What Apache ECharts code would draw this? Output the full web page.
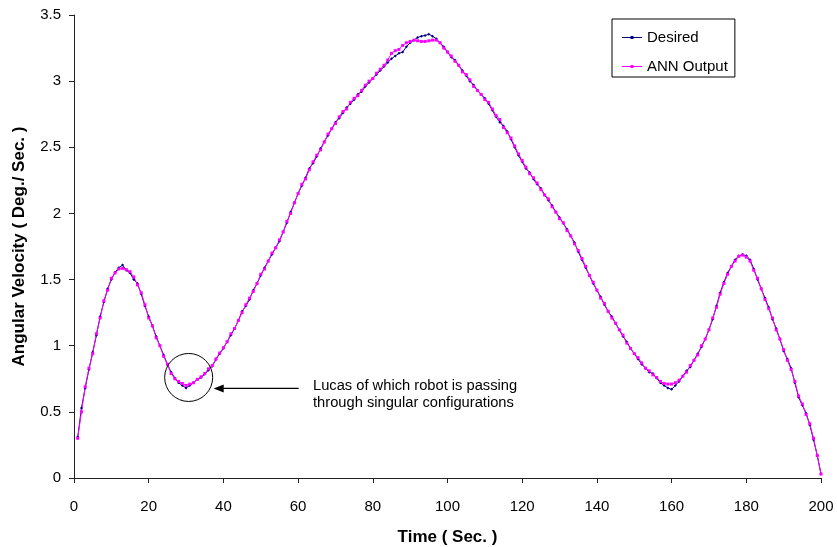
<!DOCTYPE html>
<html><head><meta charset="utf-8">
<script src="https://cdn.jsdelivr.net/npm/echarts@6/dist/echarts.min.js"></script>
<style>html,body{margin:0;padding:0;background:#fff}#c{width:837px;height:547px}</style>
</head><body><div id="c"></div>
<script>
const timeSec = Array.from({length:200},(_,i)=>i+1);
const desired = [
0.31,0.53,0.68,0.82,0.95,1.08,1.22,1.33,1.43,1.50,
1.555,1.59,1.61,1.57,1.55,1.50,1.47,1.39,1.30,1.22,
1.15,1.07,1.00,0.93,0.86,0.80,0.755,0.72,0.70,0.68,
0.70,0.72,0.745,0.76,0.785,0.815,0.845,0.895,0.94,0.98,
1.03,1.08,1.13,1.19,1.26,1.30,1.35,1.42,1.47,1.53,
1.59,1.64,1.69,1.74,1.79,1.86,1.93,2.01,2.08,2.15,
2.21,2.27,2.34,2.38,2.43,2.49,2.54,2.59,2.64,2.69,
2.72,2.76,2.80,2.83,2.86,2.90,2.92,2.96,2.99,3.02,
3.05,3.08,3.11,3.14,3.17,3.19,3.21,3.22,3.26,3.29,
3.31,3.33,3.34,3.345,3.355,3.34,3.32,3.29,3.26,3.22,
3.18,3.16,3.12,3.08,3.04,3.00,2.97,2.93,2.90,2.87,
2.83,2.78,2.73,2.69,2.66,2.62,2.56,2.50,2.44,2.39,
2.34,2.31,2.26,2.22,2.19,2.14,2.10,2.06,2.01,1.97,
1.925,1.88,1.83,1.78,1.71,1.65,1.59,1.53,1.47,1.42,
1.37,1.31,1.26,1.22,1.17,1.12,1.07,1.03,0.98,0.94,
0.90,0.86,0.83,0.80,0.79,0.755,0.72,0.70,0.68,0.67,
0.70,0.73,0.77,0.81,0.84,0.89,0.94,0.99,1.05,1.12,
1.20,1.30,1.40,1.48,1.55,1.60,1.65,1.68,1.69,1.68,
1.65,1.58,1.50,1.43,1.36,1.29,1.20,1.13,1.05,0.96,
0.90,0.83,0.72,0.61,0.55,0.49,0.40,0.29,0.17,0.03
];
const annOutput = [
0.30,0.50,0.69,0.83,0.94,1.09,1.21,1.34,1.42,1.51,
1.55,1.58,1.585,1.575,1.56,1.52,1.46,1.40,1.31,1.21,
1.15,1.06,1.00,0.92,0.86,0.79,0.75,0.73,0.715,0.70,
0.71,0.72,0.745,0.765,0.79,0.825,0.85,0.90,0.945,0.985,
1.03,1.09,1.13,1.19,1.25,1.31,1.36,1.41,1.47,1.54,
1.58,1.64,1.70,1.74,1.80,1.86,1.94,2.00,2.08,2.15,
2.22,2.26,2.33,2.39,2.44,2.48,2.54,2.60,2.64,2.68,
2.73,2.77,2.79,2.84,2.87,2.89,2.93,2.97,3.00,3.02,
3.06,3.09,3.12,3.16,3.21,3.23,3.24,3.27,3.29,3.30,
3.31,3.305,3.30,3.30,3.305,3.31,3.31,3.29,3.25,3.22,
3.19,3.15,3.12,3.07,3.05,3.01,2.96,2.93,2.90,2.86,
2.84,2.79,2.74,2.71,2.65,2.61,2.57,2.51,2.45,2.40,
2.35,2.30,2.27,2.23,2.18,2.14,2.11,2.05,2.01,1.96,
1.93,1.87,1.83,1.77,1.72,1.66,1.60,1.53,1.48,1.42,
1.36,1.32,1.26,1.21,1.17,1.12,1.08,1.02,0.98,0.94,
0.91,0.87,0.83,0.81,0.78,0.76,0.73,0.715,0.71,0.71,
0.72,0.74,0.77,0.80,0.85,0.89,0.93,1.00,1.05,1.12,
1.21,1.29,1.39,1.47,1.54,1.60,1.64,1.675,1.685,1.67,
1.64,1.57,1.51,1.43,1.35,1.28,1.21,1.12,1.05,0.97,
0.89,0.82,0.73,0.62,0.56,0.48,0.41,0.30,0.17,0.03
];
const xTicks = {min:0, max:200, interval:20};
const yTicks = {min:0, max:3.5, interval:0.5};
const annotationText = ['Lucas of which robot is passing','through singular configurations'];
const circleAt = [30.7, 0.76];

const FONT = '"Liberation Sans", Arial, sans-serif';
const chart = echarts.init(document.getElementById('c'), null, {renderer:'canvas'});
const pair = (a)=>timeSec.map((t,i)=>[t,a[i]]);
const legendIcon = 'path://M0,4.5H20V5.5H0Z M8.5,3.5H11.5V6.5H8.5Z';
chart.setOption({
  animation:false,
  backgroundColor:'#fff',
  textStyle:{fontFamily:FONT},
  grid:{left:74, right:16, top:15, bottom:69, containLabel:false, outerBoundsMode:'none'},
  xAxis:{type:'value', min:xTicks.min, max:xTicks.max, interval:xTicks.interval,
    name:'Time ( Sec. )', nameLocation:'middle', nameGap:51,
    nameTextStyle:{fontFamily:FONT, fontSize:17, fontWeight:'bold', color:'#000'},
    axisLine:{show:true, lineStyle:{color:'#222', width:1}},
    axisTick:{show:true, inside:false, length:5, lineStyle:{color:'#222'}},
    axisLabel:{fontFamily:FONT, fontSize:15, color:'#000', margin:21},
    splitLine:{show:false}},
  yAxis:{type:'value', min:yTicks.min, max:yTicks.max, interval:yTicks.interval,
    name:'Angular Velocity ( Deg./ Sec. )', nameLocation:'middle', nameGap:46, nameRotate:90,
    nameTextStyle:{fontFamily:FONT, fontSize:17, fontWeight:'bold', color:'#000'},
    axisLine:{show:true, lineStyle:{color:'#222', width:1}},
    axisTick:{show:true, inside:false, length:5, lineStyle:{color:'#222'}},
    axisLabel:{fontFamily:FONT, fontSize:15, color:'#000', margin:13},
    splitLine:{show:false}},
  legend:{orient:'vertical', left:612, top:19, itemWidth:20, itemHeight:10, itemGap:12,
    padding:[10,7,2,10], borderColor:'#000', borderWidth:1, backgroundColor:'#fff',
    textStyle:{fontFamily:FONT, fontSize:15, color:'#000', lineHeight:17},
    data:[{name:'Desired', icon:legendIcon, itemStyle:{color:'#000080'}},
          {name:'ANN Output', icon:legendIcon, itemStyle:{color:'#FF00FF'}}]},
  series:[
    {name:'Desired', type:'line', data:pair(desired), showSymbol:true, symbol:'diamond', symbolSize:3,
      lineStyle:{color:'#000080', width:1}, itemStyle:{color:'#000080'}},
    {name:'ANN Output', type:'line', data:pair(annOutput), showSymbol:true, symbol:'rect', symbolSize:3,
      lineStyle:{color:'#FF00FF', width:1}, itemStyle:{color:'#FF00FF'}}
  ]
});
const c = chart.convertToPixel({gridIndex:0}, circleAt);
const r = 24;
const ay = c[1] + 11;
const tipX = c[0] + r + 1;
chart.setOption({graphic:[
  {type:'circle', shape:{cx:c[0], cy:c[1], r:r}, style:{fill:'none', stroke:'#000', lineWidth:1}, z:100},
  {type:'line', shape:{x1:tipX+8, y1:ay, x2:tipX+85, y2:ay}, style:{stroke:'#000', lineWidth:1.3}, z:100},
  {type:'polygon', shape:{points:[[tipX,ay],[tipX+10,ay-4],[tipX+10,ay+4]]}, style:{fill:'#000'}, z:100},
  {type:'text', left:313, top:377, style:{text:annotationText.join('\n'), font:'14.7px '+FONT, fill:'#000', lineHeight:17}, z:100}
]});
</script></body></html>
